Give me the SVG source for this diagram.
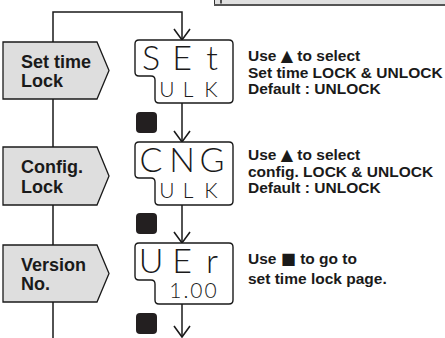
<svg xmlns="http://www.w3.org/2000/svg" width="445" height="338" viewBox="0 0 445 338">
<style>
.node{fill:#dedede;stroke:#1a1a1a;stroke-width:1.3}
.lbl{font-family:"Liberation Sans",Arial,sans-serif;font-weight:bold;font-size:18px;fill:#1a1a1a}
.lcd{fill:#fff;stroke:#1a1a1a;stroke-width:1.4}
.big{font-family:Lato,"DejaVu Sans",sans-serif;font-weight:300;font-size:34px;fill:#1a1a1a;text-anchor:middle}
.sml{font-family:Lato,"DejaVu Sans",sans-serif;font-weight:300;font-size:21px;fill:#1a1a1a;text-anchor:middle}
.desc{font-family:"Liberation Sans",Arial,sans-serif;font-weight:bold;font-size:15.5px;fill:#1a1a1a}
.sym{font-family:"DejaVu Sans",sans-serif;font-size:16px}
.key{fill:#231f20}
.conn{fill:none;stroke:#1a1a1a;stroke-width:1.5}
</style>
<defs>
<marker id="ah" markerUnits="userSpaceOnUse" markerWidth="24" markerHeight="24" refX="0" refY="0" orient="auto" overflow="visible">
<path d="M-11,-8 L0,0 L-11,8" fill="none" stroke="#1a1a1a" stroke-width="1.6"/>
</marker>
</defs>
<g id="topbox">
<rect x="214.5" y="-10" width="240" height="14.5" fill="#e0e0e0" stroke="#333" stroke-width="1"/>
<line x1="214" y1="5" x2="445" y2="5" stroke="#555" stroke-width="1.8"/>
<line x1="221" y1="0" x2="221" y2="3.5" stroke="#222" stroke-width="1.5"/>
</g>
<g id="connectors">
<path class="conn" d="M53,338 V12 H182 V40" marker-end="url(#ah)"/>
<path class="conn" d="M182,103 V142" marker-end="url(#ah)"/>
<path class="conn" d="M182,205 V243" marker-end="url(#ah)"/>
<path class="conn" d="M182,304 V337" marker-end="url(#ah)"/>
</g>
<g id="node-settime">
<polygon class="node" points="3,42 97,42 109,70.5 97,99 3,99"/>
<text class="lbl" x="21" y="67.5">Set time</text>
<text class="lbl" x="21" y="87">Lock</text>
</g>
<g id="node-config">
<polygon class="node" points="3,147 97,147 109,176 97,205 3,205"/>
<text class="lbl" x="21" y="173">Config.</text>
<text class="lbl" x="21" y="192.5">Lock</text>
</g>
<g id="node-version">
<polygon class="node" points="3,245 97,245 109,273.5 97,302 3,302"/>
<text class="lbl" x="21" y="270.5">Version</text>
<text class="lbl" x="21" y="290">No.</text>
</g>
<g id="lcd-set">
<path class="lcd" d="M139,40 H229 Q233,40 233,44 V99 Q233,103 229,103 H159 Q155,103 155,99 V80 Q155,76 151,76 H139 Q135,76 135,72 V44 Q135,40 139,40 Z"/>
<text class="big" x="151" y="70">S</text>
<text class="big" x="182" y="70">E</text>
<text class="big" x="212" y="70">t</text>
<text class="sml" x="167" y="97">U</text>
<text class="sml" x="188" y="97">L</text>
<text class="sml" x="211" y="97">K</text>
</g>
<g id="lcd-cng">
<path class="lcd" d="M139,142 H229 Q233,142 233,146 V201 Q233,205 229,205 H159 Q155,205 155,201 V182 Q155,178 151,178 H139 Q135,178 135,174 V146 Q135,142 139,142 Z"/>
<text class="big" x="151" y="172">C</text>
<text class="big" x="182" y="172">N</text>
<text class="big" x="212" y="172">G</text>
<text class="sml" x="167" y="198">U</text>
<text class="sml" x="188" y="198">L</text>
<text class="sml" x="211" y="198">K</text>
</g>
<g id="lcd-ver">
<path class="lcd" d="M139,243 H229 Q233,243 233,247 V300 Q233,304 229,304 H159 Q155,304 155,300 V284 Q155,280 151,280 H139 Q135,280 135,276 V247 Q135,243 139,243 Z"/>
<text class="big" x="151" y="273">U</text>
<text class="big" x="182" y="273">E</text>
<text class="big" x="212" y="273">r</text>
<text class="sml" x="194" y="298" letter-spacing="2">1.00</text>
</g>
<g id="keys">
<rect class="key" x="136" y="112" width="21" height="21" rx="4"/>
<rect class="key" x="136" y="213" width="21" height="21" rx="4"/>
<rect class="key" x="136" y="313" width="21" height="21" rx="4"/>
</g>
<g id="desc-set">
<text class="desc" x="248" y="61">Use <tspan class="sym">▲</tspan> to select</text>
<text class="desc" x="248" y="77.5">Set time LOCK &amp; UNLOCK</text>
<text class="desc" x="248" y="94">Default : UNLOCK</text>
</g>
<g id="desc-cng">
<text class="desc" x="248" y="160">Use <tspan class="sym">▲</tspan> to select</text>
<text class="desc" x="248" y="176.5">config. LOCK &amp; UNLOCK</text>
<text class="desc" x="248" y="193">Default : UNLOCK</text>
</g>
<g id="desc-ver">
<text class="desc" x="248" y="264">Use <tspan class="sym">■</tspan> to go to</text>
<text class="desc" x="248" y="284">set time lock page.</text>
</g>
</svg>
